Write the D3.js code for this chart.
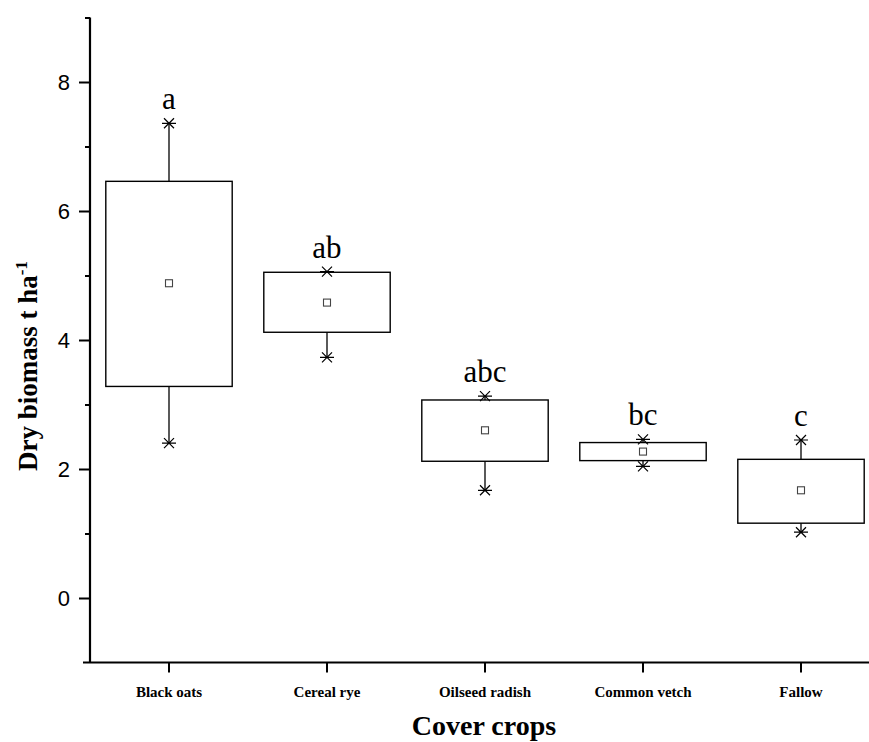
<!DOCTYPE html>
<html>

<head>
    <style>
        body { margin: 0; background: #fff; }
        .serif { font-family: "Liberation Serif", "Times New Roman", serif; }
        .sans { font-family: "Liberation Sans", Arial, sans-serif; }
    </style>
    <script src="https://cdnjs.cloudflare.com/ajax/libs/d3/7.8.5/d3.min.js"></script>
    <title>Cover crops dry biomass</title>
</head>

<body>
    <script>
        // values
        const categories = ["Black oats", "Cereal rye", "Oilseed radish", "Common vetch", "Fallow"];
        const q1 = [3.28, 4.12, 2.12, 2.13, 1.16];
        const q3 = [6.46, 5.05, 3.07, 2.41, 2.15];
        const means = [4.88, 4.58, 2.60, 2.27, 1.67];
        const minV = [2.40, 3.73, 1.67, 2.04, 1.02];
        const maxV = [7.36, 5.06, 3.13, 2.46, 2.45];
        const letters = ["a", "ab", "abc", "bc", "c"];
        const majorTicks = [0, 2, 4, 6, 8];
        const minorTicks = [1, 3, 5, 7, 9];

        const width = 869;
        const height = 742;

        const svg = d3.select("body").append("svg")
            .attr("width", width).attr("height", height);

        const x = d3.scaleBand().domain(categories).range([90, 880])
            .paddingInner(0.2).paddingOuter(0.1);
        const y = d3.scaleLinear().domain([-1, 9]).range([662.5, 17.5]);

        const rows = categories.map((c, i) => ({
            cat: c, q1: q1[i], q3: q3[i], mean: means[i], min: minV[i], max: maxV[i], letter: letters[i]
        }));

        // axes
        const yMajor = svg.append("g").attr("transform", "translate(90,0)")
            .call(d3.axisLeft(y).tickValues(majorTicks).tickSize(11).tickSizeOuter(0).tickPadding(9));
        yMajor.selectAll("text").attr("class", "sans").style("font-size", "22px").style("fill", "#000");
        yMajor.select(".domain").remove();
        yMajor.selectAll("line").attr("stroke-width", 2);

        const yMinor = svg.append("g").attr("transform", "translate(90,0)")
            .call(d3.axisLeft(y).tickValues(minorTicks).tickSize(5).tickFormat(""));
        yMinor.select(".domain").remove();
        yMinor.selectAll("line").attr("stroke-width", 2);

        const xAxis = svg.append("g").attr("transform", "translate(0," + y(-1) + ")")
            .call(d3.axisBottom(x).tickSize(10).tickPadding(14));
        xAxis.select(".domain").remove();
        xAxis.selectAll("line").attr("stroke-width", 2);
        xAxis.selectAll("text").attr("class", "serif")
            .style("font-size", "15px").style("font-weight", "bold").style("fill", "#000");

        // axis lines
        svg.append("line").attr("x1", 90).attr("x2", 90)
            .attr("y1", y(9)).attr("y2", y(-1))
            .attr("stroke", "#000").attr("stroke-width", 2.2);
        svg.append("line").attr("x1", 83).attr("x2", width)
            .attr("y1", y(-1)).attr("y2", y(-1))
            .attr("stroke", "#000").attr("stroke-width", 2.2);

        // boxes
        const g = svg.append("g").selectAll("g").data(rows).enter().append("g");
        const cx = d => x(d.cat) + x.bandwidth() / 2;

        g.append("line").attr("x1", cx).attr("x2", cx)
            .attr("y1", d => y(d.q3)).attr("y2", d => y(d.max))
            .attr("stroke", "#000").attr("stroke-width", 1.3);
        g.append("line").attr("x1", cx).attr("x2", cx)
            .attr("y1", d => y(d.q1)).attr("y2", d => y(d.min))
            .attr("stroke", "#000").attr("stroke-width", 1.3);

        g.append("rect")
            .attr("x", d => x(d.cat)).attr("width", x.bandwidth())
            .attr("y", d => y(d.q3)).attr("height", d => y(d.q1) - y(d.q3))
            .attr("fill", "none").attr("stroke", "#000").attr("stroke-width", 1.4);

        // asterisk markers for min / max
        const star = "M-7,0H7M-5,-5L5,5M-5,5L5,-5";
        g.selectAll("path.star")
            .data(d => [{ cx: cx(d), v: d.max }, { cx: cx(d), v: d.min }])
            .enter().append("path").attr("class", "star")
            .attr("d", star)
            .attr("transform", p => "translate(" + p.cx + "," + y(p.v) + ")")
            .attr("stroke", "#000").attr("stroke-width", 1.2).attr("fill", "none");

        // mean squares
        g.append("rect")
            .attr("x", d => cx(d) - 3.5).attr("y", d => y(d.mean) - 3.5)
            .attr("width", 7).attr("height", 7)
            .attr("fill", "#fff").attr("stroke", "#444").attr("stroke-width", 1.1);

        // significance letters
        g.append("text").attr("class", "serif")
            .attr("x", cx).attr("y", d => y(d.max) - 14)
            .attr("text-anchor", "middle")
            .style("font-size", "31px")
            .text(d => d.letter);

        // axis titles
        svg.append("text").attr("class", "serif")
            .attr("x", 484).attr("y", 735)
            .attr("text-anchor", "middle")
            .style("font-size", "28px").style("font-weight", "bold")
            .text("Cover crops");

        const yl = svg.append("text").attr("class", "serif")
            .attr("transform", "translate(37,366) rotate(-90)")
            .attr("text-anchor", "middle")
            .style("font-size", "27px").style("font-weight", "bold");
        yl.append("tspan").text("Dry biomass t ha");
        yl.append("tspan").attr("dy", "-10").style("font-size", "17px").text("-1");
    </script>
</body>

</html>
